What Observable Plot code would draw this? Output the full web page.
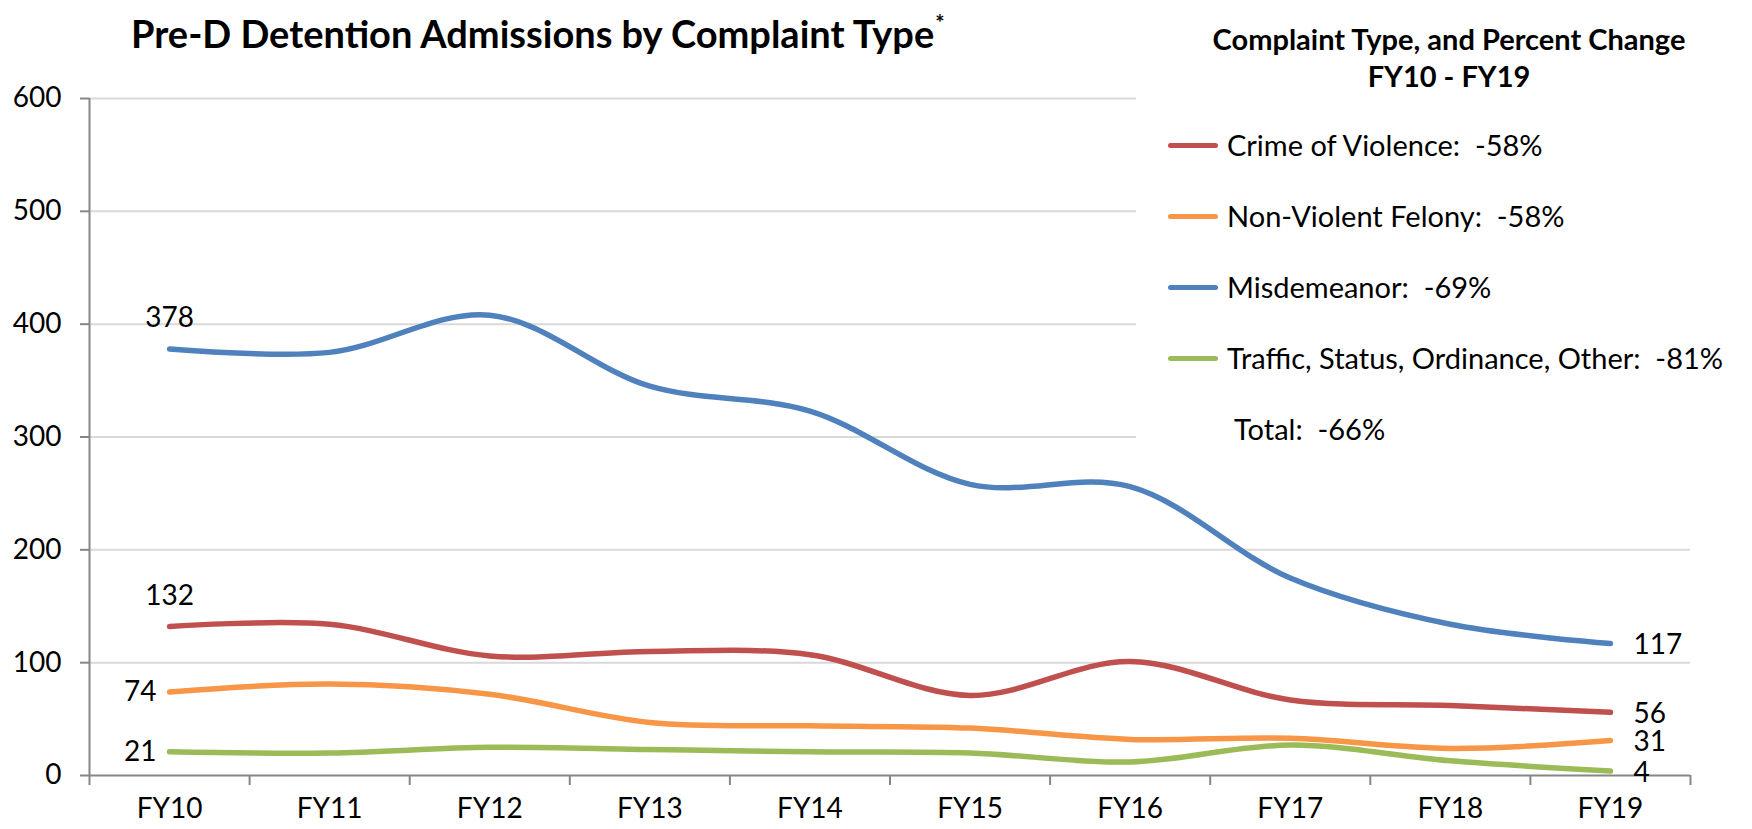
<!DOCTYPE html>
<html>
<head>
<meta charset="utf-8">
<script src="https://cdn.jsdelivr.net/npm/d3@7"></script>
<script src="https://cdn.jsdelivr.net/npm/@observablehq/plot@0.6"></script>
<style>
  body { margin: 0; background: #fff; font-family: Lato, "Open Sans", sans-serif; color: #000; }
  #wrap { position: relative; width: 1752px; height: 829px; overflow: hidden; background: #fff; }
  #chart { position: absolute; left: 0; top: 0; }
  #title { position: absolute; left: 131px; top: 11px; font-size: 38px; font-weight: bold; line-height: 44px; white-space: nowrap; }
  #title sup { font-size: 22px; vertical-align: baseline; position: relative; top: -17px; margin-left: 1px; }
  #legend { position: absolute; left: 1136px; top: 8px; width: 616px; height: 444px; background: #fff; }
  .lg-title { position: absolute; left: 13px; width: 600px; text-align: center; font-weight: bold; font-size: 29px; line-height: 37px; white-space: nowrap; }
  .lg-sw { position: absolute; height: 5px; width: 50px; border-radius: 3px; }
  .lg-tx { position: absolute; font-size: 29px; line-height: 32px; white-space: pre; }
</style>
</head>
<body>
<div id="wrap">
  <div id="chart"></div>
  <div id="title"></div>
  <div id="legend"></div>
</div>
<script>
// ---- data ----
const years = ["FY10", "FY11", "FY12", "FY13", "FY14", "FY15", "FY16", "FY17", "FY18", "FY19"];
const seriesNames = ["Crime of Violence", "Non-Violent Felony", "Misdemeanor", "Traffic, Status, Ordinance, Other"];
const crimeOfViolence = [132, 134, 106, 110, 107, 71, 101, 67, 62, 56];
const nonViolentFelony = [74, 81, 72, 47, 44, 42, 32, 33, 24, 31];
const misdemeanor = [378, 375, 408, 345, 323, 258, 256, 175, 134, 117];
const trafficStatusOther = [21, 20, 25, 23, 21, 20, 12, 27, 13, 4];
const percentChange = ["-58%", "-58%", "-69%", "-81%"];
const totalChange = "-66%";
const yTicks = [0, 100, 200, 300, 400, 500, 600];
const titleText = "Pre-D Detention Admissions by Complaint Type";
const legendTitle = ["Complaint Type, and Percent Change", "FY10 - FY19"];

// ---- build ----
const seriesValues = [crimeOfViolence, nonViolentFelony, misdemeanor, trafficStatusOther];
const rows = seriesValues.flatMap((vals, s) =>
  vals.map((v, i) => ({series: seriesNames[s], i, year: years[i], value: v})));
const firsts = rows.filter(d => d.i === 0);
const lasts = rows.filter(d => d.i === years.length - 1);
const boundaries = d3.range(years.length + 1).map(i => i - 0.5);
const FS = 28;

const chart = Plot.plot({
  width: 1752,
  height: 829,
  marginLeft: 89,
  marginRight: 62,
  marginTop: 98,
  marginBottom: 54,
  style: {fontFamily: "Lato, 'Open Sans', sans-serif", fontSize: FS + "px", color: "#000", background: "#fff", overflow: "visible"},
  x: {type: "linear", domain: [-0.5, years.length - 0.5], axis: null},
  y: {domain: [0, 600], axis: null},
  color: {domain: seriesNames, range: ["#C0504D", "#F79646", "#4F81BD", "#9BBB59"]},
  marks: [
    Plot.ruleY(yTicks.filter(t => t > 0), {stroke: "#d9d9d9", strokeWidth: 2}),
    Plot.axisY({ticks: yTicks, label: null, tickSize: 9, tickPadding: 19, stroke: "#868686", strokeWidth: 2, strokeOpacity: 1,
                tickFormat: d => String(d), fontSize: FS, fill: "#000"}),
    Plot.axisX({ticks: boundaries, label: null, tickSize: 10, tickFormat: () => "", stroke: "#868686", strokeWidth: 2, strokeOpacity: 1}),
    Plot.axisX({ticks: d3.range(years.length), label: null, tickSize: 0, tickPadding: 23, tickFormat: i => years[i], fontSize: FS, fill: "#000"}),
    Plot.ruleX([-0.5], {stroke: "#868686", strokeWidth: 2}),
    Plot.ruleY([0], {stroke: "#868686", strokeWidth: 2}),
    Plot.line(rows, {x: "i", y: "value", z: "series", stroke: "series", strokeWidth: 5.5, curve: "catmull-rom", strokeLinecap: "round"}),
    Plot.text(firsts.filter(d => d.value > 100), {x: "i", y: "value", text: d => String(d.value), dy: -31, fontSize: FS, fill: "#000"}),
    Plot.text(firsts.filter(d => d.value <= 100), {x: "i", y: "value", text: d => String(d.value), textAnchor: "end", dx: -13, fontSize: FS, fill: "#000"}),
    Plot.text(lasts, {x: "i", y: "value", text: d => String(d.value), textAnchor: "start", dx: 23, dy: 2, fontSize: FS, fill: "#000"})
  ]
});
document.getElementById("chart").appendChild(chart);

// title
const t = document.getElementById("title");
t.textContent = titleText;
const sup = document.createElement("sup");
sup.textContent = "*";
t.appendChild(sup);

// legend
const color = chart.scale("color");
const lg = document.getElementById("legend");
const L = 1136, T = 8;
legendTitle.forEach((txt, k) => {
  const d = document.createElement("div");
  d.className = "lg-title";
  d.style.top = (20 + k * 37 - T) + "px";
  d.textContent = txt;
  lg.appendChild(d);
});
const entries = seriesNames.map((n, k) => ({label: n + ":  " + percentChange[k], color: color.range[k]}));
entries.push({label: "Total:  " + totalChange, color: null});
entries.forEach((e, k) => {
  const cy = 145 + k * 71 - T;
  if (e.color) {
    const sw = document.createElement("div");
    sw.className = "lg-sw";
    sw.style.left = (1168 - L) + "px";
    sw.style.top = (cy - 2.5) + "px";
    sw.style.background = e.color;
    lg.appendChild(sw);
  }
  const tx = document.createElement("div");
  tx.className = "lg-tx";
  tx.style.left = ((e.color ? 1227 : 1234) - L) + "px";
  tx.style.top = (cy - 16) + "px";
  tx.textContent = e.label;
  lg.appendChild(tx);
});
</script>
</body>
</html>
